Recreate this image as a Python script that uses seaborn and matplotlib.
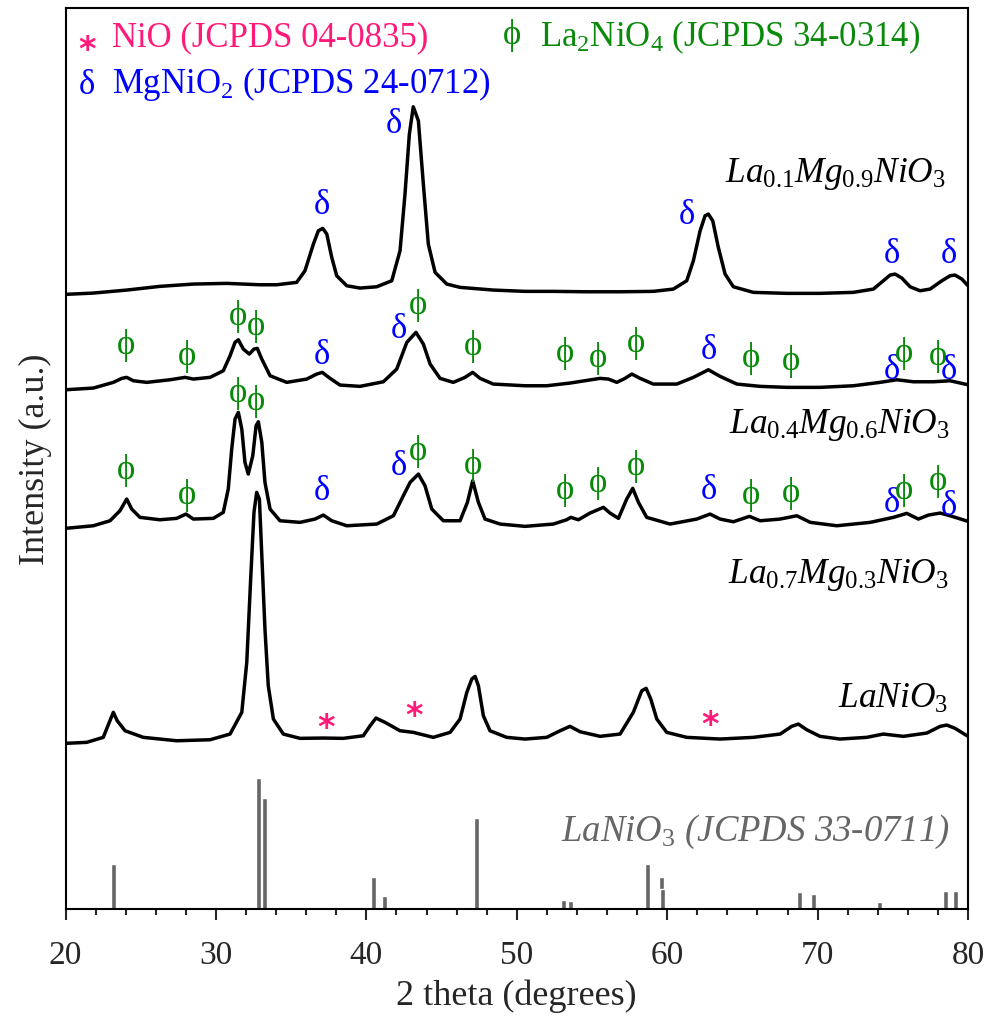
import matplotlib
matplotlib.use("Agg")
import matplotlib.pyplot as plt
import seaborn as sns
import pandas as pd

# ---------------- data (2theta in degrees, intensity in a.u.) ----------------
x_mg09 = [20.0, 21.85, 24.07, 26.28, 28.50, 30.72, 31.82, 32.93, 34.04, 35.37, 35.92, 36.48, 36.81, 37.10,
          37.37, 37.70, 38.03, 38.70, 39.58, 40.69, 41.69, 42.24, 42.57, 42.86, 43.12, 43.46, 43.79, 44.12,
          44.57, 45.35, 46.23, 48.44, 50.55, 52.43, 54.65, 56.87, 59.08, 60.41, 61.30, 61.74, 62.19, 62.52,
          62.74, 63.03, 63.40, 63.85, 64.40, 65.73, 67.95, 70.16, 72.38, 73.71, 74.37, 74.82, 75.15, 75.60,
          76.15, 76.81, 77.48, 78.26, 78.81, 79.14, 79.59, 80.0]
y_mg09 = [614.7, 616, 619, 622.7, 625, 625.7, 625, 624.3, 624.3, 626.7, 638.3, 665, 678.3, 680.7,
          675, 651.7, 633.3, 623.3, 621, 622.3, 628.3, 658.3, 715, 775, 802.3, 788.3, 725, 665,
          636.7, 625, 621.7, 619, 617.7, 617.7, 617.3, 617.3, 617.7, 620, 628.3, 648.3, 678.3, 693.3,
          695, 688.3, 661.7, 635, 622.3, 616.7, 615.7, 615.7, 616.7, 620, 628.3, 634, 635, 631,
          622.3, 618.3, 620, 628.3, 633.3, 634, 630, 623.3]

x_mg06 = [20.0, 21.85, 23.18, 23.74, 24.07, 24.51, 25.40, 26.95, 27.95, 28.50, 29.61, 30.49, 30.94, 31.27,
          31.49, 31.82, 32.22, 32.53, 32.75, 33.05, 33.60, 34.71, 36.04, 36.70, 37.07, 37.59, 38.25, 39.58,
          41.13, 42.02, 42.69, 43.30, 43.79, 44.24, 44.90, 45.78, 46.56, 47.07, 47.56, 48.44, 50.55, 51.99,
          53.54, 55.54, 56.09, 56.65, 57.20, 57.65, 58.20, 59.08, 60.64, 61.74, 62.74, 63.52, 64.63, 66.18,
          67.95, 70.16, 72.38, 74.15, 75.27, 76.37, 77.70, 78.81, 80.0]
y_mg06 = [519.3, 521, 526.7, 530.7, 531.7, 528.3, 526.7, 529.3, 531.7, 530, 531.7, 538.3, 553.3, 566.7,
          569.3, 560, 555, 560, 560.7, 550, 533.3, 526.7, 530, 535, 536.7, 530.7, 524, 522.7,
          527.3, 540, 566.7, 576.7, 565, 545, 530.7, 526.7, 531.7, 536.7, 530.7, 525, 523.3, 523.3,
          526, 530.7, 530, 526.7, 530.7, 535, 530.7, 525, 525, 531.7, 539.3, 532.7, 525, 522.7,
          521.7, 521.7, 523.3, 526.7, 529.3, 527.3, 527.3, 528.3, 524.3]

x_mg03 = [20.0, 21.85, 22.96, 23.62, 24.07, 24.40, 24.95, 26.28, 27.39, 28.01, 28.50, 29.83, 30.49, 30.82,
          31.05, 31.27, 31.49, 31.72, 31.93, 32.15, 32.45, 32.67, 32.82, 33.05, 33.26, 33.60, 34.26, 35.59,
          36.59, 37.14, 37.70, 38.70, 40.69, 41.80, 42.46, 42.91, 43.46, 43.90, 44.35, 45.12, 46.23, 46.72,
          47.07, 47.45, 47.89, 48.89, 50.55, 52.43, 53.32, 53.59, 54.10, 54.87, 55.76, 56.20, 56.76, 57.31,
          57.71, 58.09, 58.64, 60.19, 61.97, 62.85, 63.52, 64.40, 65.47, 66.18, 67.51, 68.62, 69.51, 71.28,
          73.50, 75.04, 75.93, 76.70, 77.37, 78.15, 78.81, 80.0]
y_mg03 = [380.7, 383.3, 388.3, 398.3, 410, 400, 391.7, 389.3, 390.7, 395, 390, 390.7, 396.7, 420,
          460, 490, 496.7, 480, 446.7, 435, 453.3, 483.3, 487.3, 466.7, 426.7, 400, 388.3, 386.7,
          390, 394, 388.3, 383.3, 385, 393.3, 413.3, 426.7, 435, 423.3, 400, 388.3, 388.3, 406.7,
          428.3, 406.7, 390, 385, 382.7, 385, 389.3, 391.7, 389.3, 396, 401.7, 396, 390.7, 410,
          420.7, 406.7, 391.7, 385, 390, 395, 390, 387.3, 392.7, 388.3, 390, 393.3, 386.7, 383.3,
          386.7, 391.7, 395.7, 390, 394, 396, 393.3, 387.7]

x_lanio3 = [20.0, 21.41, 22.51, 22.91, 23.18, 23.44, 23.96, 25.17, 27.39, 29.61, 30.94, 31.72, 32.05, 32.31,
            32.53, 32.71, 32.89, 33.07, 33.26, 33.48, 33.82, 34.48, 35.59, 37.14, 38.47, 39.80, 40.25, 40.64,
            41.24, 42.24, 43.12, 43.57, 44.45, 45.57, 46.23, 46.68, 47.01, 47.23, 47.45, 47.78, 48.22, 49.33,
            50.55, 51.99, 52.88, 53.54, 54.21, 55.54, 56.87, 57.75, 58.31, 58.60, 58.91, 59.31, 59.97, 61.30,
            63.52, 65.73, 67.51, 68.28, 68.72, 69.28, 70.16, 71.49, 73.27, 74.37, 75.70, 77.26, 78.15, 78.59,
            79.14, 80.0]
y_lanio3 = [165.7, 166.7, 171.7, 186.7, 196.7, 188.3, 178.3, 171.7, 168.3, 169.3, 175, 196.7, 246.7, 330,
            396.7, 416.7, 410, 346.7, 280, 223.3, 190, 175, 170.7, 171, 170.7, 173.3, 183.3, 191,
            186.7, 178.3, 176.7, 175, 171.7, 176.7, 190, 216.7, 230, 232.7, 223.3, 193.3, 178.3, 171.7,
            170, 171.7, 178.3, 182.7, 177.3, 172.7, 175, 196.7, 218.3, 220.7, 210, 190, 176.7, 171.7,
            170, 171.7, 175, 182.7, 185, 179.3, 172.7, 170, 171.7, 175, 172.7, 176, 182.7, 184,
            180.7, 172.7]

# reference pattern LaNiO3 (JCPDS 33-0711)
ref_pos = [23.2, 32.8, 33.2, 40.5, 41.2, 47.3, 53.1, 53.6, 58.7, 59.6, 59.7, 68.8, 69.7, 73.7, 74.1, 78.5, 79.2]
ref_int = [45, 131, 111, 32, 13, 91, 9, 8, 45, 32, 20, 17, 15, 2, 7, 18, 18]

# phase markers: (2theta, height, symbol)
marks_mg09 = [(37.03, 705, 'd'), (41.86, 785.7, 'd'), (61.30, 695, 'd'), (74.93, 655.7, 'd'), (78.70, 655.7, 'd')]
marks_mg06 = [(24.00, 565, 'p'), (28.06, 553.3, 'p'), (31.49, 593.3, 'p'), (32.65, 584, 'p'), (37.07, 555, 'd'),
              (42.13, 580.7, 'd'), (43.42, 605, 'p'), (47.11, 563.3, 'p'), (53.21, 556.7, 'p'), (55.39, 551.7, 'p'),
              (57.91, 566.7, 'p'), (62.74, 560, 'd'), (65.56, 551.7, 'p'), (68.22, 548.3, 'p'), (74.93, 540, 'd'),
              (75.77, 556.7, 'p'), (77.99, 553.3, 'p'), (78.76, 540, 'd')]
marks_mg03 = [(24.00, 440, 'p'), (28.06, 415, 'p'), (31.49, 516.7, 'p'), (32.65, 508.3, 'p'), (37.07, 418.3, 'd'),
              (42.13, 443.3, 'd'), (43.42, 458.3, 'p'), (47.11, 445, 'p'), (53.21, 420, 'p'), (55.39, 426.7, 'p'),
              (57.91, 443.3, 'p'), (62.74, 420, 'd'), (65.56, 415, 'p'), (68.22, 416.7, 'p'), (74.93, 406.7, 'd'),
              (75.77, 420, 'p'), (77.99, 428.3, 'p'), (78.76, 403.3, 'd')]
marks_lanio3 = [(37.30, 190, 's'), (43.17, 201.7, 's'), (62.85, 192.7, 's')]

sample_labels = [r'$\mathit{La_{0.1}Mg_{0.9}NiO_3}$', r'$\mathit{La_{0.4}Mg_{0.6}NiO_3}$',
                 r'$\mathit{La_{0.7}Mg_{0.3}NiO_3}$', r'$\mathit{LaNiO_3}$']
label_pos = [(78.54, 727.7), (78.81, 476.7), (78.70, 326.7), (78.70, 202.3)]

# ---------------- style ----------------
sns.set_style("ticks")
plt.rcParams['font.family'] = ['Liberation Serif', 'DejaVu Serif']
plt.rcParams['mathtext.fontset'] = 'custom'
plt.rcParams['mathtext.rm'] = 'Liberation Serif'
plt.rcParams['mathtext.it'] = 'Liberation Serif:italic'
plt.rcParams['mathtext.bf'] = 'Liberation Serif:bold'

PINK = '#ff1a7a'
GREEN = '#0a8a0a'
BLUE = '#0000ff'
GRAY = '#666666'
sym_char = {'d': 'δ', 'p': 'ϕ', 's': '*'}
sym_col = {'d': BLUE, 'p': GREEN, 's': PINK}

fig = plt.figure(figsize=(9.91, 10.2), dpi=100)
ax = fig.add_axes([0.0661, 0.1078, 0.9107, 0.8833])

for xs, ys in [(x_mg09, y_mg09), (x_mg06, y_mg06), (x_mg03, y_mg03), (x_lanio3, y_lanio3)]:
    df = pd.DataFrame({'two_theta': xs, 'intensity': ys})
    sns.lineplot(data=df, x='two_theta', y='intensity', ax=ax, color='black', lw=2.5,
                 sort=False, estimator=None)

ax.bar(ref_pos, ref_int, width=0.33, color=GRAY, bottom=0)

for marks in [marks_mg09, marks_mg06, marks_mg03, marks_lanio3]:
    for (mx, my, s) in marks:
        if s == 's':
            ax.text(mx, my - 8, '*', color=PINK, fontsize=24, ha='center', va='center',
                    family=['DejaVu Sans'], fontweight='bold')
        else:
            ax.text(mx, my, sym_char[s], color=sym_col[s], fontsize=25, ha='center', va='center')

for lab, (lx, ly) in zip(sample_labels, label_pos):
    ax.text(lx, ly, lab, fontsize=25.5, ha='right', va='baseline', color='black')

ax.text(78.81, 69.3, r'$\mathit{LaNiO_3}$ (JCPDS 33-0711)', fontsize=26.5, ha='right', va='baseline',
        color=GRAY, style='italic')

# legend-like phase keys
ax.text(21.46, 860, '*', color=PINK, fontsize=24, ha='center', va='center', family=['DejaVu Sans'],
        fontweight='bold')
ax.text(23.09, 863.3, 'NiO (JCPDS 04-0835)', color=PINK, fontsize=25, ha='left', va='baseline')
ax.text(49.67, 875, 'ϕ', color=GREEN, fontsize=25, ha='center', va='center')
ax.text(51.55, 863.3, r'La$_2$NiO$_4$ (JCPDS 34-0314)', color=GREEN, fontsize=25, ha='left', va='baseline')
ax.text(21.41, 825, 'δ', color=BLUE, fontsize=25, ha='center', va='center')
ax.text(23.07, 816.7, r'MgNiO$_2$ (JCPDS 24-0712)', color=BLUE, fontsize=25, ha='left', va='baseline')

ax.set_xlim(20, 80)
ax.set_ylim(0, 901)
ax.set_xticks([20, 30, 40, 50, 60, 70, 80])
ax.set_xticks(list(range(22, 80, 2)), minor=True)
ax.set_yticks([])
ax.tick_params(axis='x', which='major', direction='out', length=8, width=1.5, labelsize=24, pad=14)
ax.tick_params(axis='x', which='minor', direction='out', length=4, width=1.5)
for sp in ax.spines.values():
    sp.set_visible(True)
    sp.set_linewidth(1.5)
    sp.set_color('black')
ax.set_xlabel('2 theta (degrees)', fontsize=26, labelpad=6)
ax.set_ylabel('Intensity (a.u.)', fontsize=26, labelpad=10)

fig.savefig('out.png', dpi=100)
